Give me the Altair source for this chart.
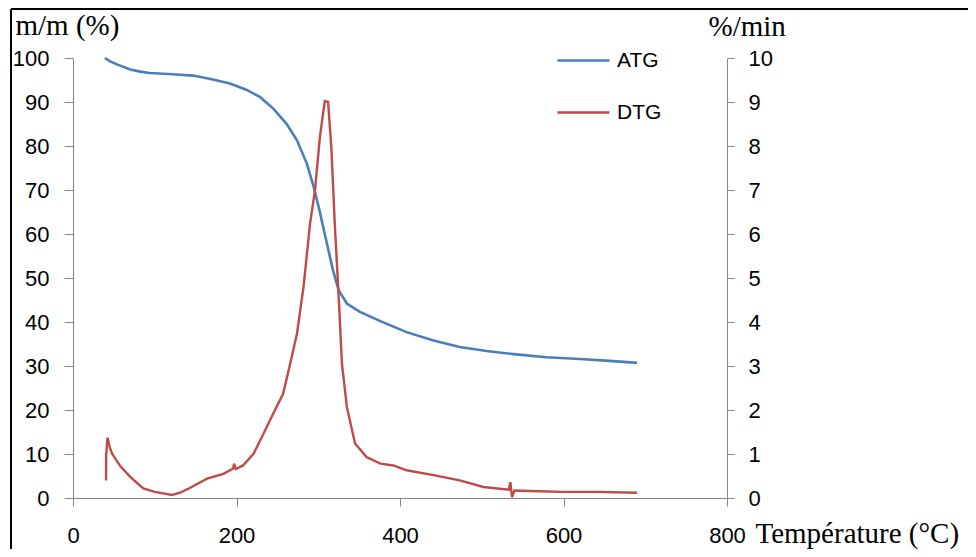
import altair as alt
import pandas as pd

# ---- data ----
temp_atg = [39, 45, 53, 70, 82, 94, 122, 147, 171, 192, 212, 229, 245, 261, 274, 286,
            294, 302, 306, 318, 325, 335, 351, 376, 408, 441, 473, 506, 539, 579, 620, 661, 690]
mass_atg = [100, 99.3, 98.6, 97.4, 96.9, 96.6, 96.3, 96.0, 95.1, 94.2, 92.8, 91.1, 88.5, 85.1,
            81.3, 76.0, 71.0, 65.0, 61.6, 51.8, 47.2, 44.2, 42.3, 40.2, 37.7, 35.8, 34.3, 33.4,
            32.7, 32.0, 31.6, 31.1, 30.7]

temp_dtg = [40.4, 40.6, 42.3, 45, 48, 58, 70, 86, 100, 112, 121, 131, 140, 153, 164, 184, 196,
            197, 199, 208, 221, 233, 245, 257, 265, 274, 282, 290, 296, 302, 308, 312, 316, 320,
            325, 329, 335, 345, 359, 376, 392, 408, 441, 473, 502, 533, 535, 537, 540, 559, 600,
            641, 690]
rate_dtg = [0.40, 1.0, 1.37, 1.15, 1.0, 0.72, 0.48, 0.22, 0.14, 0.10, 0.07, 0.12, 0.20, 0.33,
            0.44, 0.55, 0.67, 0.78, 0.66, 0.74, 1.01, 1.46, 1.92, 2.37, 3.0, 3.74, 4.80, 6.24,
            6.99, 8.2, 9.02, 9.0, 7.98, 6.31, 4.57, 3.05, 2.07, 1.24, 0.93, 0.78, 0.74, 0.63,
            0.52, 0.40, 0.25, 0.19, 0.36, 0.02, 0.17, 0.16, 0.14, 0.14, 0.12]

series_names = ["ATG", "DTG"]
series_colors = ["#4A7EBB", "#BE4B48"]
x_ticks = [0, 200, 400, 600, 800]
left_ticks = [0, 10, 20, 30, 40, 50, 60, 70, 80, 90, 100]
right_ticks = [0, 1, 2, 3, 4, 5, 6, 7, 8, 9, 10]

atg_df = pd.DataFrame({"T": temp_atg, "v": mass_atg, "series": series_names[0]})
dtg_df = pd.DataFrame({"T": temp_dtg, "v": rate_dtg, "series": series_names[1]})
frame_df = pd.DataFrame({"k": [0]})

TICK_FONT = "Liberation Sans"
SERIF = "Liberation Serif"
AXIS_GRAY = "#868686"

x_enc = alt.X(
    "T:Q",
    scale=alt.Scale(domain=[0, 800], nice=False, zero=False),
    axis=alt.Axis(
        values=x_ticks, title="Température (°C)", titleX=682, titleY=44, titleAngle=0,
        titleAlign="left", titleBaseline="alphabetic", titleFont=SERIF, titleFontSize=29,
        titleFontWeight="normal", titleColor="black",
        labelFont=TICK_FONT, labelFontSize=22, labelColor="black", labelPadding=19,
        labelBaseline="top", labelFlush=False, labelOverlap=False,
        tickSize=8, tickColor=AXIS_GRAY, domainColor=AXIS_GRAY, grid=False,
    ),
)

color_enc = alt.Color(
    "series:N",
    scale=alt.Scale(domain=series_names, range=series_colors),
    legend=alt.Legend(
        title=None, orient="none", legendX=483, legendY=-25, symbolType="stroke",
        symbolSize=2704, symbolStrokeWidth=2.5, labelFont="Liberation Sans", labelFontSize=21,
        labelColor="black", labelOffset=6, rowPadding=14, padding=0,
    ),
)

atg_line = alt.Chart(atg_df).mark_line(strokeWidth=2.6).encode(
    x=x_enc,
    y=alt.Y(
        "v:Q",
        scale=alt.Scale(domain=[0, 100], nice=False),
        axis=alt.Axis(
            orient="left", values=left_ticks, title="m/m (%)", titleAngle=0, titleX=-58,
            titleY=-24, titleAlign="left", titleBaseline="alphabetic", titleFont=SERIF,
            titleFontSize=29, titleFontWeight="normal", titleColor="black",
            labelFont=TICK_FONT, labelFontSize=22, labelColor="black", labelPadding=15,
            tickSize=9, tickColor=AXIS_GRAY, domainColor=AXIS_GRAY, grid=False,
            labelOverlap=False,
        ),
    ),
    color=color_enc,
)

dtg_line = alt.Chart(dtg_df).mark_line(strokeWidth=2.4).encode(
    x=x_enc,
    y=alt.Y(
        "v:Q",
        scale=alt.Scale(domain=[0, 10], nice=False),
        axis=alt.Axis(
            orient="right", values=right_ticks, title="%/min", titleAngle=0, titleX=-19,
            titleY=-23, titleAlign="left", titleBaseline="alphabetic", titleFont=SERIF,
            titleFontSize=29, titleFontWeight="normal", titleColor="black",
            labelFont=TICK_FONT, labelFontSize=22, labelColor="black", labelPadding=14,
            tickSize=7, tickColor=AXIS_GRAY, domainColor=AXIS_GRAY, grid=False,
            labelOverlap=False,
        ),
    ),
    color=color_enc,
)

top_rule = alt.Chart(frame_df).mark_rule(color="black", strokeWidth=2).encode(
    x=alt.value(-62), x2=alt.value(905), y=alt.value(-49)
)
left_rule = alt.Chart(frame_df).mark_rule(color="black", strokeWidth=2).encode(
    x=alt.value(-62), y=alt.value(-49), y2=alt.value(500)
)

chart = (
    alt.layer(atg_line, dtg_line, top_rule, left_rule)
    .resolve_scale(y="independent")
    .properties(
        width=654,
        height=440,
        padding={"left": 65, "top": 50, "right": 241, "bottom": 51},
        autosize=alt.AutoSizeParams(type="none"),
    )
    .configure_view(stroke=None)
)

chart.save("out.html", embed_options={"renderer": "svg", "actions": False})
